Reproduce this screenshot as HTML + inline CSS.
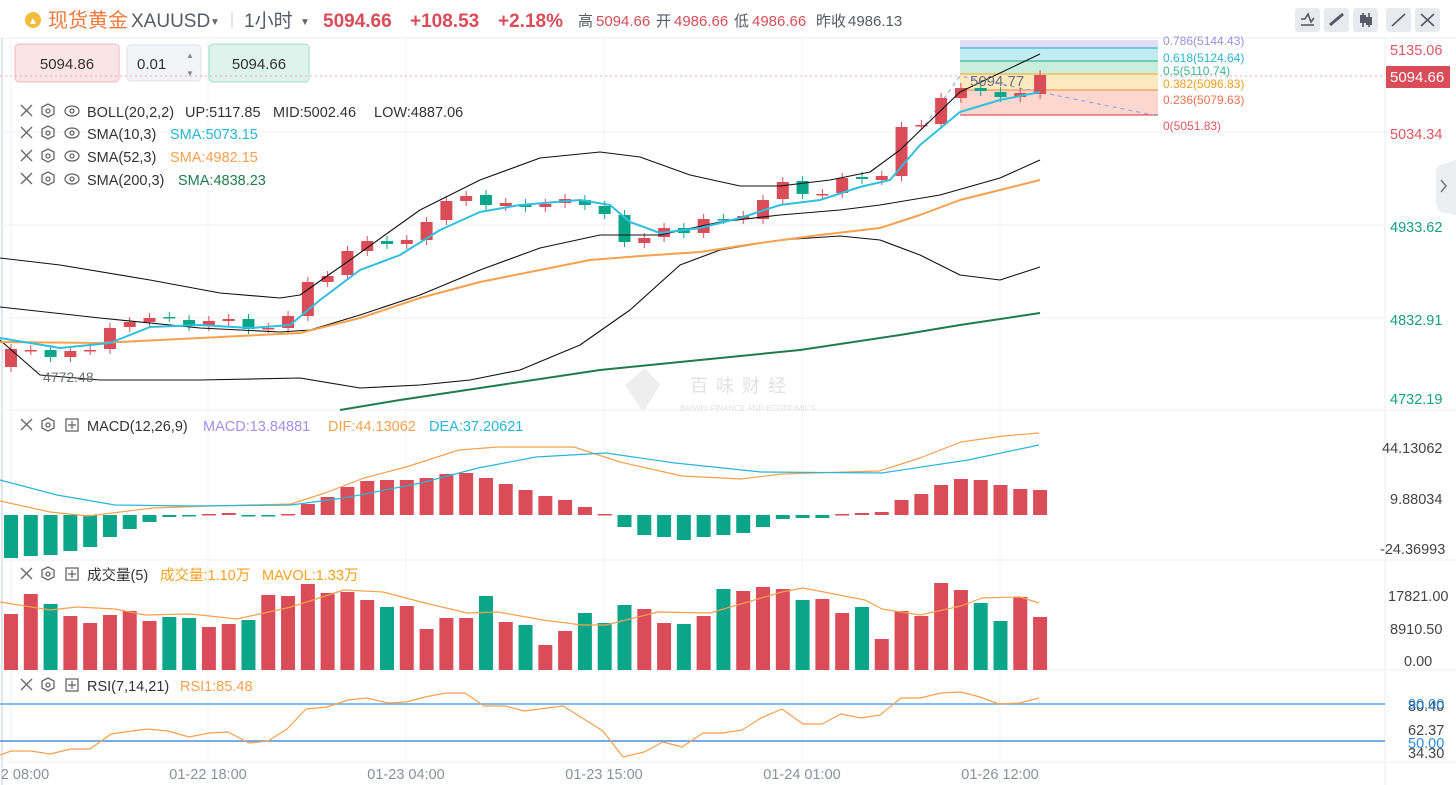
<!DOCTYPE html>
<html><head><meta charset="utf-8"><style>
html,body{margin:0;padding:0;background:#fff;}
body{width:1456px;height:785px;overflow:hidden;position:relative;font-family:"Liberation Sans","Noto Sans CJK SC",sans-serif;}
svg{position:absolute;left:0;top:0;}
</style></head><body>
<svg id="s" width="1456" height="785" xmlns="http://www.w3.org/2000/svg" font-family="Liberation Sans, Noto Sans CJK SC, sans-serif">
<rect x="0" y="0" width="1456" height="785" fill="#fff"/>
<line x1="0" y1="38" x2="1456" y2="38" stroke="#eceef2"/>
<line x1="1385" y1="38" x2="1385" y2="785" stroke="#eceef2"/>
<line x1="2" y1="38" x2="2" y2="785" stroke="#e3e6ee" stroke-width="2"/>
<g stroke="#f1f2f5">
<line x1="0" y1="132" x2="1385" y2="132"/><line x1="0" y1="225" x2="1385" y2="225"/><line x1="0" y1="318" x2="1385" y2="318"/>
<line x1="11" y1="38" x2="11" y2="762"/><line x1="208" y1="38" x2="208" y2="762"/><line x1="406" y1="38" x2="406" y2="762"/><line x1="604" y1="38" x2="604" y2="762"/><line x1="802" y1="38" x2="802" y2="762"/><line x1="1000" y1="38" x2="1000" y2="762"/>
<line x1="0" y1="410" x2="1456" y2="410"/><line x1="0" y1="560" x2="1456" y2="560"/><line x1="0" y1="670" x2="1456" y2="670"/><line x1="0" y1="762" x2="1456" y2="762"/>
</g>
<!-- header -->
<circle cx="33" cy="20" r="8" fill="#f2bd3a"/><text x="33" y="24" font-size="10" fill="#fff" text-anchor="middle">▲</text>
<text x="48" y="27" font-size="20" fill="#f07a3c">现货黄金</text>
<text x="131" y="27" font-size="19" fill="#555a66">XAUUSD</text>
<text x="210" y="25" font-size="10" fill="#666">▼</text>
<line x1="232" y1="11" x2="232" y2="29" stroke="#ccc"/>
<text x="244" y="27" font-size="19" fill="#555a66">1小时</text>
<text x="300" y="25" font-size="10" fill="#666">▼</text>
<text x="323" y="27" font-size="19" font-weight="bold" fill="#d94c58">5094.66</text>
<text x="410" y="27" font-size="19" font-weight="bold" fill="#d94c58">+108.53</text>
<text x="498" y="27" font-size="19" font-weight="bold" fill="#d94c58">+2.18%</text>
<text x="578" y="26" font-size="15" fill="#555a66">高</text><text x="596" y="26" font-size="15" fill="#d94c58">5094.66</text>
<text x="656" y="26" font-size="15" fill="#555a66">开</text><text x="674" y="26" font-size="15" fill="#d94c58">4986.66</text>
<text x="734" y="26" font-size="15" fill="#555a66">低</text><text x="752" y="26" font-size="15" fill="#d94c58">4986.66</text>
<text x="816" y="26" font-size="15" fill="#555a66">昨收</text><text x="848" y="26" font-size="15" fill="#555a66">4986.13</text>
<g fill="#e8eaef"><rect x="1295" y="8" width="25" height="24" rx="3"/><rect x="1324" y="8" width="25" height="24" rx="3"/><rect x="1353" y="8" width="25" height="24" rx="3"/><rect x="1386" y="8" width="25" height="24" rx="3"/><rect x="1415" y="8" width="25" height="24" rx="3"/></g>
<g stroke="#555a66" stroke-width="1.6" fill="none"><polyline points="1301,19 1305,19 1308,14 1311,22 1314,18"/><line x1="1301" y1="25" x2="1314" y2="25"/><line x1="1330" y1="25" x2="1343" y2="14" stroke-width="3"/><line x1="1363" y1="13" x2="1363" y2="27"/><line x1="1369" y1="13" x2="1369" y2="27"/><line x1="1392" y1="26" x2="1405" y2="14"/><line x1="1421" y1="14" x2="1434" y2="26"/><line x1="1434" y1="14" x2="1421" y2="26"/></g>
<rect x="1360" y="15" width="6" height="8" fill="#555a66"/><rect x="1366" y="17" width="6" height="8" fill="#555a66"/>
<!-- order boxes -->
<rect x="15" y="44" width="104" height="38" rx="4" fill="#fbe4e6" stroke="#f0b7bd"/><text x="67" y="69" font-size="15" fill="#333" text-anchor="middle">5094.86</text>
<rect x="127" y="45" width="74" height="36" rx="4" fill="#f3f4f7" stroke="#dfe1e6"/><text x="137" y="69" font-size="15" fill="#333">0.01</text>
<text x="186" y="58" font-size="8" fill="#888">▲</text><text x="186" y="76" font-size="8" fill="#888">▼</text>
<rect x="209" y="44" width="100" height="38" rx="4" fill="#ddf3ec" stroke="#9fdcc9"/><text x="259" y="69" font-size="15" fill="#333" text-anchor="middle">5094.66</text>
<line x1="0" y1="76" x2="1385" y2="76" stroke="#f2a7b0" stroke-dasharray="2,3"/>
<!-- fib -->
<rect x="960" y="40" width="198" height="8" fill="#e3def8"/>
<rect x="960" y="48" width="198" height="13" fill="#c2ecf3"/>
<rect x="960" y="61" width="198" height="13" fill="#c9eedd"/>
<rect x="960" y="74" width="198" height="16" fill="#fde9bf"/>
<rect x="960" y="90" width="198" height="25" fill="#fdd6cd"/>
<g stroke-width="1.3"><line x1="960" y1="48" x2="1158" y2="48" stroke="#30b8d8"/><line x1="960" y1="61" x2="1158" y2="61" stroke="#40b88a"/><line x1="960" y1="74" x2="1158" y2="74" stroke="#f5b440"/><line x1="960" y1="90" x2="1158" y2="90" stroke="#f59a50"/><line x1="960" y1="115" x2="1158" y2="115" stroke="#e05560"/></g>
<g font-size="12"><text x="1163" y="45" fill="#9b8fe0">0.786(5144.43)</text><text x="1163" y="62" fill="#2bb5d4">0.618(5124.64)</text><text x="1163" y="75" fill="#3cb88a">0.5(5110.74)</text><text x="1163" y="88" fill="#f0a020">0.382(5096.83)</text><text x="1163" y="104" fill="#f07050">0.236(5079.63)</text><text x="1163" y="130" fill="#e05560">0(5051.83)</text></g>
<polyline points="925,125 960,76 1158,116" fill="none" stroke="#7f9cf5" stroke-dasharray="4,4"/>
<g id="main"></g>
<text x="970" y="86" font-size="15" fill="#6b6f7a">5094.77</text>
<line x1="33" y1="370" x2="42" y2="372" stroke="#888" stroke-dasharray="1,2"/>
<text x="43" y="382" font-size="14" fill="#6b6f7a">4772.48</text>
<!-- watermark -->
<text x="690" y="392" font-size="18" fill="#e2e2e2" letter-spacing="8">百味财经</text>
<text x="680" y="411" font-size="8" fill="#e2e2e2">BAIWEI FINANCE AND ECONOMICS</text>
<polygon points="625,385 645,368 660,385 643,412" fill="#eeeeee"/>
<!-- legends -->
<g font-size="14.5" fill="#333">
<text x="87" y="117">BOLL(20,2,2)</text><text x="185" y="117">UP:5117.85</text><text x="273" y="117">MID:5002.46</text><text x="374" y="117">LOW:4887.06</text>
<text x="87" y="139">SMA(10,3)</text><text x="170" y="139" fill="#27b6d8">SMA:5073.15</text>
<text x="87" y="162">SMA(52,3)</text><text x="170" y="162" fill="#f7a04d">SMA:4982.15</text>
<text x="87" y="185">SMA(200,3)</text><text x="178" y="185" fill="#1e7c4c">SMA:4838.23</text>
<text x="87" y="431">MACD(12,26,9)</text><text x="203" y="431" fill="#a48ef0">MACD:13.84881</text><text x="328" y="431" fill="#f7a04d">DIF:44.13062</text><text x="429" y="431" fill="#27b6d8">DEA:37.20621</text>
<text x="87" y="580">成交量(5)</text><text x="160" y="580" fill="#f7a020">成交量:1.10万</text><text x="262" y="580" fill="#f7a020">MAVOL:1.33万</text>
<text x="87" y="691">RSI(7,14,21)</text><text x="180" y="691" fill="#f7a04d">RSI1:85.48</text>
</g>
<g id="icons" stroke="#666" stroke-width="1.3" fill="none"></g>
<!-- right axis -->
<g font-size="14.5">
<text x="1390" y="55" fill="#e05560">5135.06</text>
<rect x="1386" y="66" width="64" height="22" fill="#d94c58"/><text x="1390" y="82" fill="#fff" font-size="15">5094.66</text>
<text x="1390" y="139" fill="#e05560">5034.34</text>
<text x="1390" y="232" fill="#14a085">4933.62</text>
<text x="1390" y="325" fill="#14a085">4832.91</text>
<text x="1390" y="404" fill="#14a085">4732.19</text>
<text x="1382" y="453" fill="#444">44.13062</text><text x="1390" y="504" fill="#444">9.88034</text><text x="1380" y="554" fill="#444">-24.36993</text>
<text x="1388" y="601" fill="#444">17821.00</text><text x="1390" y="634" fill="#444">8910.50</text><text x="1404" y="666" fill="#444">0.00</text>
<text x="1408" y="711" fill="#444">80.40</text><text x="1408" y="709" fill="#2a8ae0">90.00</text><text x="1408" y="735" fill="#444">62.37</text><text x="1408" y="748" fill="#2a8ae0">50.00</text><text x="1408" y="758" fill="#444">34.30</text>
</g>
<path d="M1456,160 L1440,165 L1436,170 L1436,205 L1440,212 L1456,215 Z" fill="#eceef2"/>
<polyline points="1441,180 1446,186 1441,192" fill="none" stroke="#777" stroke-width="1.5"/>
<!-- time axis -->
<g font-size="14.5" fill="#8a8f9c" text-anchor="middle"><text x="25" y="779">2 08:00</text><text x="208" y="779">01-22 18:00</text><text x="406" y="779">01-23 04:00</text><text x="604" y="779">01-23 15:00</text><text x="802" y="779">01-24 01:00</text><text x="1000" y="779">01-26 12:00</text></g>
<line x1="0" y1="704" x2="1385" y2="704" stroke="#56a8f0" stroke-width="1.5"/>
<line x1="0" y1="741" x2="1385" y2="741" stroke="#4a90e2" stroke-width="1.5"/>
<g id="ind"></g>
</svg>
<script>
var NS="http://www.w3.org/2000/svg";
function el(p,t,a){var e=document.createElementNS(NS,t);for(var k in a)e.setAttribute(k,a[k]);document.getElementById(p).appendChild(e);return e;}
function pl(p,pts,c,w){el(p,"polyline",{points:pts.map(function(q){return q.join(",")}).join(" "),fill:"none",stroke:c,"stroke-width":w||1,"stroke-linejoin":"round"});}
var R="#d94c58",G="#0ba68a";
function X(i){return 11+i*19.79;}
var C=[[349,367,1],[350,350,1],[350,357,0],[351,357,1],[350,350,1],[328,349,1],[322,327,1],[318,322,1],[317,317,0],[320,326,0],[321,326,1],[319,321,1],[319,329,0],[328,328,1],[316,328,1],[282,316,1],[276,282,1],[251,275,1],[241,251,1],[241,244,0],[240,244,1],[222,240,1],[201,220,1],[196,201,1],[195,205,0],[203,206,1],[204,207,0],[204,207,1],[199,203,1],[200,205,0],[206,214,0],[215,242,0],[238,243,1],[228,237,1],[228,233,0],[219,233,1],[219,219,0],[216,219,1],[200,219,1],[182,199,1],[181,194,0],[194,194,1],[178,193,1],[177,179,0],[176,180,1],[127,176,1],[125,125,1],[98,124,1],[88,98,1],[88,91,0],[92,97,0],[93,97,1],[75,94,1]];
C.forEach(function(c,i){var x=X(i),col=c[2]?R:G;el("main","line",{x1:x,x2:x,y1:c[0]-5,y2:c[1]+5,stroke:col});var h=Math.max(c[1]-c[0],1.5);el("main","rect",{x:x-6,y:c[0],width:12,height:h,fill:col});});
pl("main",[[0,258],[60,265],[150,280],[220,293],[280,298],[300,295],[350,260],[420,210],[480,180],[540,158],[600,152],[640,157],[690,175],[740,186],[780,186],[830,180],[870,172],[900,150],[960,92],[1040,54]],"#111",1.1);
pl("main",[[0,307],[100,318],[200,328],[280,332],[310,330],[360,315],[420,295],[480,270],[540,248],[600,235],[660,235],[720,222],[780,215],[840,210],[880,205],[940,195],[1000,178],[1040,160]],"#111",1.1);
pl("main",[[0,340],[40,375],[100,380],[200,380],[300,378],[360,388],[420,385],[470,380],[520,370],[580,345],[630,310],[680,265],[720,250],[780,240],[840,236],[880,240],[920,255],[960,275],[1000,280],[1040,267]],"#111",1.1);
pl("main",[[0,342],[100,343],[200,338],[300,333],[360,318],[420,298],[480,282],[540,270],[590,260],[640,256],[700,252],[760,243],[820,235],[880,228],[920,215],[960,200],[1000,190],[1040,180]],"#f7a04d",2);
pl("main",[[0,338],[60,348],[110,343],[150,327],[200,325],[250,328],[290,325],[320,300],[360,270],[400,255],[440,230],[480,212],[520,205],[580,200],[610,205],[630,222],[660,233],[700,228],[740,218],[780,205],[820,200],[860,187],[890,180],[920,145],[960,112],[1000,100],[1040,92]],"#2fbfe0",2);
pl("main",[[340,410],[400,400],[500,385],[600,370],[700,360],[800,350],[900,335],[960,325],[1040,313]],"#1e7c4c",2);
var M=[558,556,555,551,547,537,529,522,517,516,514,513,516,516,514,504,497,487,481,480,480,478,474,473,478,484,490,496,500,507,514,527,535,537,540,537,535,533,527,519,518,518,514,513,512,500,494,485,479,480,485,489,490];
M.forEach(function(v,i){var x=X(i)-7;var up=v<515;var col=(i<15? (up||[10,11,14].indexOf(i)>=0?R:G) : (up?R:G));if(i<8)col=G;var y=Math.min(v,515),h=Math.max(Math.abs(v-515),1.5);el("ind","rect",{x:x,y:y,width:14,height:h,fill:col});});
pl("ind",[[0,501],[50,512],[88,516],[153,508],[210,506],[291,504],[325,493],[364,478],[406,467],[459,450],[498,447],[574,447],[620,462],[682,476],[741,479],[782,474],[879,471],[920,458],[961,442],[1003,436],[1039,433]],"#f7a04d",1.2);
pl("ind",[[0,480],[57,495],[115,505],[191,506],[291,505],[344,498],[421,483],[478,468],[536,457],[606,453],[675,463],[761,472],[882,473],[968,460],[1039,445]],"#27b6d8",1.2);
var V=[[614,1],[594,1],[604,0],[616,1],[623,1],[615,1],[611,1],[621,1],[617,0],[618,0],[627,1],[624,1],[620,0],[595,1],[596,1],[584,1],[593,1],[592,1],[600,1],[607,0],[606,1],[629,1],[618,1],[618,1],[596,0],[622,1],[625,0],[645,1],[631,1],[613,0],[623,0],[605,0],[609,1],[623,1],[624,0],[616,1],[589,0],[591,1],[587,1],[589,1],[600,0],[599,1],[613,1],[607,0],[639,1],[611,1],[616,1],[583,1],[590,1],[603,0],[621,0],[597,1],[617,1]];
V.forEach(function(v,i){el("ind","rect",{x:X(i)-7,y:v[0],width:14,height:670-v[0],fill:v[1]?R:G});});
pl("ind",[[0,602],[50,610],[77,607],[115,609],[145,615],[191,614],[237,619],[291,607],[344,590],[383,592],[421,602],[467,613],[498,612],[543,620],[582,625],[606,625],[658,612],[710,613],[782,592],[803,588],[865,600],[882,609],[920,615],[961,606],[982,598],[1020,597],[1039,603]],"#f7a04d",1.2);
pl("ind",[[0,755],[11,751],[31,751],[50,754],[71,749],[90,749],[111,734],[147,729],[168,731],[189,737],[209,733],[228,732],[249,743],[268,741],[287,729],[306,709],[327,707],[348,700],[367,698],[388,703],[406,702],[425,697],[446,693],[465,693],[484,706],[505,706],[524,711],[563,706],[603,731],[623,757],[644,752],[663,742],[682,747],[703,733],[723,733],[742,730],[761,718],[782,709],[803,724],[822,724],[841,714],[861,718],[880,715],[901,698],[920,698],[941,693],[961,692],[980,697],[999,704],[1020,703],[1039,698]],"#f7a04d",1.2);
[[111,0],[133,0],[156,0],[179,0],[425,1],[574,1],[685,1]].forEach(function(r){var y=r[0];
el("icons","line",{x1:21,y1:y-6,x2:32,y2:y+5});el("icons","line",{x1:32,y1:y-6,x2:21,y2:y+5});
el("icons","polygon",{points:[48,y-7,54,y-4,54,y+3,48,y+6,42,y+3,42,y-4].join(",")});el("icons","circle",{cx:48,cy:y,r:2});
if(r[1]){el("icons","rect",{x:66,y:y-6,width:12,height:12});el("icons","line",{x1:72,y1:y-4,x2:72,y2:y+4});el("icons","line",{x1:68,y1:y,x2:76,y2:y});}
else{el("icons","ellipse",{cx:72,cy:y,rx:7,ry:5});el("icons","circle",{cx:72,cy:y,r:2});}
});
</script>
</body></html>
